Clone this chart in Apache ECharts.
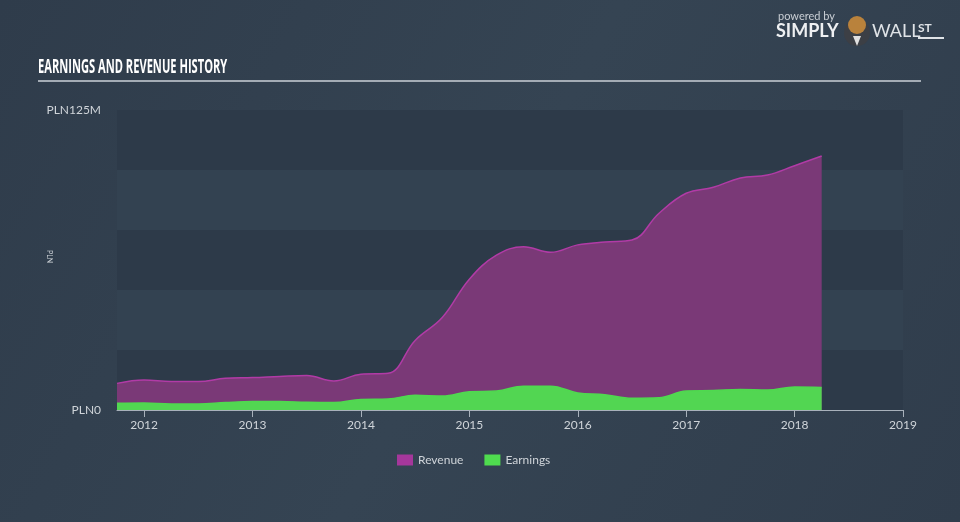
<!DOCTYPE html>
<html>
<head>
<meta charset="utf-8">
<script src="https://cdn.jsdelivr.net/npm/echarts@6/dist/echarts.min.js"></script>
<style>
html,body{margin:0;padding:0;background:#323f4e;}
#chart{width:960px;height:522px;}
</style>
</head>
<body>
<div id="chart"></div>
<script>
// Quarter positions (fractional years)
var periods = [2011.75, 2012.0, 2012.25, 2012.5, 2012.75, 2013.0, 2013.25, 2013.5, 2013.75,
  2014.0, 2014.25, 2014.5, 2014.75, 2015.0, 2015.25, 2015.5, 2015.75, 2016.0, 2016.25,
  2016.5, 2016.75, 2017.0, 2017.25, 2017.5, 2017.75, 2018.0, 2018.25];
// Revenue, PLN millions
var revenue = [11.1, 12.5, 11.9, 11.9, 13.2, 13.5, 14.0, 14.4, 12.1,
  14.9, 15.3, 29.0, 38.5, 54.5, 64.5, 68.0, 65.7, 68.8, 70.0,
  70.8, 82.0, 90.3, 92.8, 96.7, 97.9, 101.8, 105.8];
// Earnings, PLN millions
var earnings = [2.8, 2.9, 2.5, 2.5, 3.1, 3.5, 3.5, 3.2, 3.1,
  4.4, 4.6, 6.1, 5.8, 7.6, 7.9, 9.9, 9.9, 7.1, 6.4,
  4.9, 5.1, 7.9, 8.1, 8.5, 8.3, 9.6, 9.4];
var yearTicks = [2012, 2013, 2014, 2015, 2016, 2017, 2018, 2019];

function pairs(vals) {
  return periods.map(function (p, i) { return [p, vals[i]]; });
}

var chart = echarts.init(document.getElementById('chart'), null, {renderer: 'canvas'});
var labelColor = '#cfd4d9';
chart.setOption({
  backgroundColor: {
    type: 'linear', x: 0, y: 0, x2: 1, y2: 1,
    colorStops: [{offset: 0, color: '#2f3c4b'}, {offset: 0.5, color: '#354453'}, {offset: 1, color: '#303d4c'}]
  },
  animation: false,
  textStyle: {fontFamily: 'Lato, "Open Sans", sans-serif'},
  graphic: [
    {type: 'text', x: 38, y: 58, scaleX: 0.585, style: {text: 'EARNINGS AND REVENUE HISTORY', fill: '#ffffff',
      font: 'bold 19px "Open Sans", sans-serif'}},
    {type: 'rect', shape: {x: 38, y: 80, width: 883, height: 2}, style: {fill: '#a4acb5'}},
    {type: 'text', x: 778, y: 11, style: {text: 'powered by', fill: '#c9ced4', font: '11px Lato, sans-serif'}},
    {type: 'text', x: 776, y: 22, style: {text: 'SIMPLY', fill: '#eef0f2', font: 'bold 18px Lato, sans-serif'}},
    {type: 'circle', shape: {cx: 857, cy: 33, r: 13}, style: {fill: '#3c3f45'}},
    {type: 'polygon', shape: {points: [[853, 36], [861, 36], [857, 46]]}, style: {fill: '#e0e0e0'}},
    {type: 'circle', shape: {cx: 857, cy: 25, r: 9}, style: {fill: '#b9823c'}},
    {type: 'text', x: 872, y: 22, style: {text: 'WALL', fill: '#dfe3e7', font: '18px Lato, sans-serif'}},
    {type: 'text', x: 918, y: 22, style: {text: 'ST', fill: '#dfe3e7', font: 'bold 12px Lato, sans-serif'}},
    {type: 'rect', shape: {x: 918, y: 37, width: 26, height: 2}, style: {fill: '#dfe3e7'}},
    {type: 'text', x: 53, y: 250, rotation: -Math.PI / 2, style: {text: 'PLN', fill: '#cfd4d9', font: '7px Lato, sans-serif'}}
  ],
  legend: {
    left: 392, top: 449,
    icon: 'rect', itemWidth: 16, itemHeight: 11, itemGap: 21,
    textStyle: {color: labelColor, fontSize: 12, fontFamily: 'Lato, sans-serif'},
    data: ['Revenue', 'Earnings']
  },
  grid: {left: 117, right: 57, top: 110, bottom: 112, containLabel: false},
  xAxis: {
    type: 'value', min: 2011.75, max: 2019,
    splitLine: {show: false},
    axisLine: {show: true, lineStyle: {color: '#a8b1bb', width: 1}},
    axisTick: {show: true, customValues: yearTicks, length: 7, lineStyle: {color: '#a8b1bb'}},
    axisLabel: {customValues: yearTicks, color: labelColor, fontSize: 12, margin: 9,
      formatter: function (v) { return String(Math.round(v)); }}
  },
  yAxis: {
    type: 'value', min: 0, max: 125, interval: 25,
    axisLine: {show: false}, axisTick: {show: false},
    splitLine: {show: false},
    splitArea: {show: true, areaStyle: {color: ['#2d3a49', '#334251']}},
    axisLabel: {color: labelColor, fontSize: 12, margin: 16,
      formatter: function (v) { return v === 0 ? 'PLN0' : (v === 125 ? 'PLN125M' : ''); }}
  },
  series: [
    {
      name: 'Revenue', type: 'line', data: pairs(revenue), showSymbol: false,
      smooth: 0.4,
      itemStyle: {color: '#a5379b'},
      lineStyle: {color: '#b13ba6', width: 1.5},
      areaStyle: {color: '#7a3977', opacity: 1}
    },
    {
      name: 'Earnings', type: 'line', data: pairs(earnings), showSymbol: false,
      smooth: 0.4,
      itemStyle: {color: '#4fdc4f'},
      lineStyle: {color: '#4fd94f', width: 1.5},
      areaStyle: {color: '#52d652', opacity: 1}
    }
  ]
});
</script>
</body>
</html>
